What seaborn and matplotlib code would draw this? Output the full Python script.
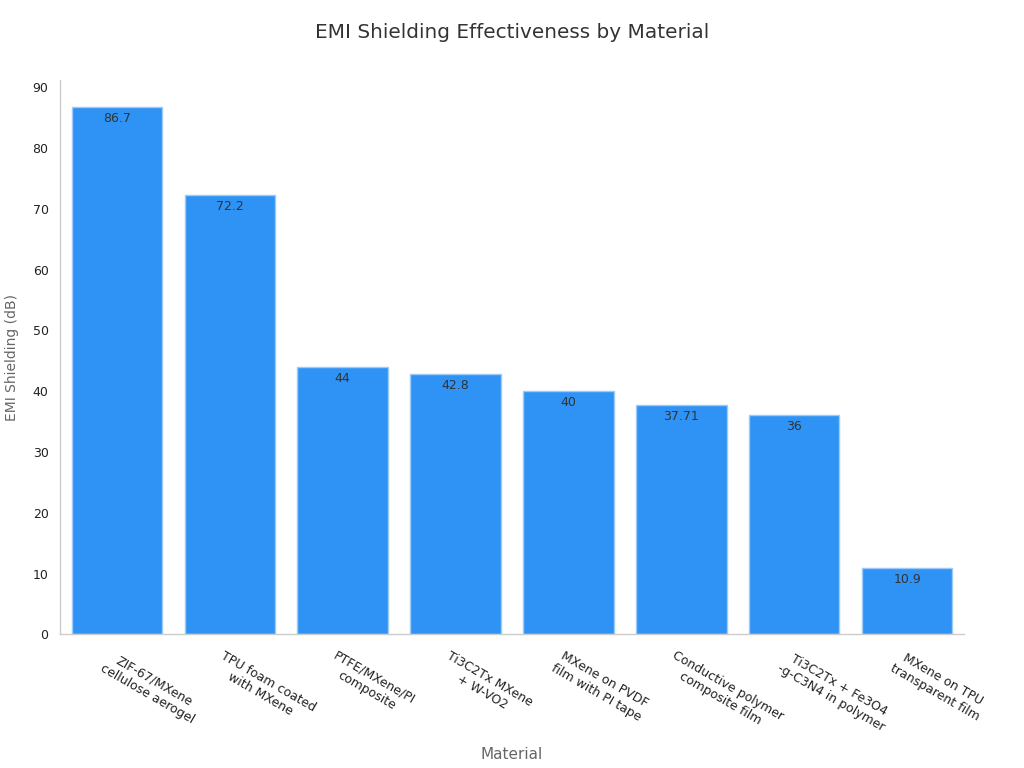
import numpy as np
import pandas as pd
import matplotlib
matplotlib.use("Agg")
import matplotlib.pyplot as plt
import matplotlib.transforms as mtransforms
import seaborn as sns

materials = [
    "ZIF-67/MXene\ncellulose aerogel",
    "TPU foam coated\nwith MXene",
    "PTFE/MXene/PI\ncomposite",
    "Ti3C2Tx MXene\n+ W-VO2",
    "MXene on PVDF\nfilm with PI tape",
    "Conductive polymer\ncomposite film",
    "Ti3C2Tx + Fe3O4\n-g-C3N4 in polymer",
    "MXene on TPU\ntransparent film",
]
shielding = [86.7, 72.2, 44, 42.8, 40, 37.71, 36, 10.9]
value_labels = ["86.7", "72.2", "44", "42.8", "40", "37.71", "36", "10.9"]

df = pd.DataFrame({"Material": materials, "EMI Shielding (dB)": shielding})

sns.set_style("white")
plt.rcParams["font.family"] = ["DejaVu Sans"]

fig = plt.figure(figsize=(10.24, 7.68), dpi=100)
ax = fig.add_axes([0.059, 0.174, 0.882, 0.722])

sns.barplot(
    data=df,
    x="Material",
    y="EMI Shielding (dB)",
    color="#2E93F5",
    saturation=1,
    width=0.8,
    edgecolor="#9CCBF7",
    linewidth=1,
    ax=ax,
)

for i, (v, lab) in enumerate(zip(shielding, value_labels)):
    ax.text(i, v - 0.8, lab, ha="center", va="top", fontsize=9, color="#333333")

ax.set_ylim(0, 91.2)
ax.set_xlim(-0.5, 7.5)
ax.set_yticks(np.arange(0, 91, 10))

for s in ["top", "right"]:
    ax.spines[s].set_visible(False)
for s in ["left", "bottom"]:
    ax.spines[s].set_color("#CCCCCC")
    ax.spines[s].set_linewidth(1)

ax.tick_params(axis="both", which="both", direction="out", length=5,
               color="#888888", labelsize=9, labelcolor="#222222")
ax.tick_params(axis="x", pad=4)
shift = mtransforms.ScaledTranslation(-5 / 100, -2 / 100, fig.dpi_scale_trans)
for t in ax.get_xticklabels():
    t.set_rotation(-30)
    t.set_ha("left")
    t.set_va("top")
    t.set_rotation_mode("anchor")
    t.set_multialignment("center")
    t.set_transform(t.get_transform() + shift)

ax.set_xlabel("Material", fontsize=11, color="#666666", labelpad=8)
ax.set_ylabel("EMI Shielding (dB)", fontsize=10, color="#666666", labelpad=10)
fig.suptitle("EMI Shielding Effectiveness by Material", fontsize=14.4,
             color="#333333", y=0.97)

fig.savefig("out.png", dpi=100)
